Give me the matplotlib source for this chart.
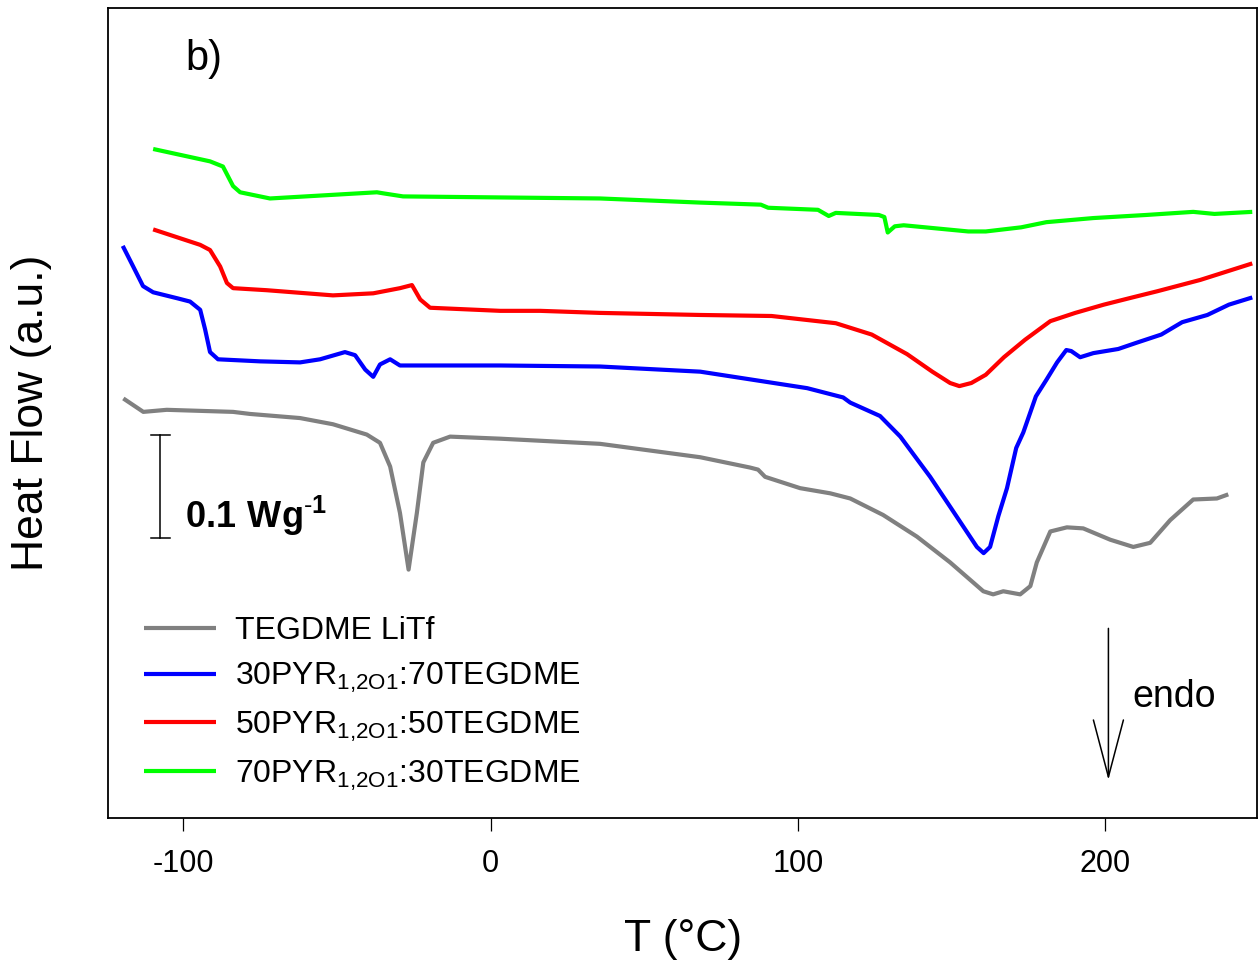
import matplotlib
matplotlib.use("Agg")
import matplotlib.pyplot as plt

plt.rcParams['font.family'] = ['Liberation Sans', 'DejaVu Sans']
plt.rcParams['mathtext.fontset'] = 'custom'
plt.rcParams['mathtext.rm'] = 'Liberation Sans'
plt.rcParams['mathtext.bf'] = 'Liberation Sans:bold'

# DSC traces, temperature in degC, heat flow in W/g (arbitrary offset)
t_litf = [-119.5, -113.0, -105.4, -83.8, -78.3, -62.0, -51.3, -40.3, -36.0, -32.7, -29.5, -26.7,
          -24.0, -21.9, -18.7, -13.2, 3.1, 35.6, 68.2, 84.4, 87.0, 89.3, 100.7, 110.5, 117.0,
          127.7, 138.7, 149.5, 160.3, 163.5, 166.8, 172.3, 175.6, 177.7, 182.1, 187.5, 192.8,
          201.6, 209.1, 214.6, 221.1, 228.6, 236.3, 240.0]
hf_litf = [0.407, 0.394, 0.396, 0.394, 0.392, 0.388, 0.382, 0.372, 0.364, 0.341, 0.296, 0.241,
           0.296, 0.345, 0.364, 0.370, 0.368, 0.363, 0.350, 0.340, 0.338, 0.331, 0.320, 0.315, 0.310,
           0.294, 0.273, 0.248, 0.220, 0.217, 0.220, 0.217, 0.225, 0.248, 0.278, 0.282, 0.281,
           0.270, 0.263, 0.267, 0.289, 0.309, 0.310, 0.314]

t_30 = [-119.7, -116.3, -113.1, -109.8, -101.7, -97.8, -94.5, -92.9, -91.3, -88.7, -75.0, -62.0,
        -55.5, -47.4, -44.1, -40.8, -38.2, -36.0, -32.7, -29.5, 3.1, 35.6, 68.2, 103.0, 114.7,
        117.0, 126.7, 133.3, 143.0, 149.5, 158.2, 160.4, 162.5, 165.2, 168.0, 171.0, 173.3,
        177.4, 180.8, 184.3, 187.3, 188.9, 191.8, 196.1, 204.2, 210.1, 218.2, 225.0, 233.2,
        240.2, 247.8]
hf_30 = [0.555, 0.535, 0.516, 0.510, 0.504, 0.501, 0.493, 0.474, 0.452, 0.445, 0.443, 0.442,
         0.445, 0.452, 0.449, 0.435, 0.428, 0.440, 0.445, 0.439, 0.439, 0.438, 0.433, 0.417, 0.408,
         0.403, 0.390, 0.370, 0.331, 0.302, 0.263, 0.257, 0.263, 0.293, 0.320, 0.359, 0.374,
         0.409, 0.425, 0.442, 0.454, 0.453, 0.447, 0.451, 0.455, 0.461, 0.469, 0.481, 0.488,
         0.498, 0.505]

t_50 = [-109.8, -94.5, -91.3, -88.0, -85.8, -83.8, -72.8, -51.3, -38.2, -29.5, -25.6, -22.9,
        -19.7, 3.1, 16.1, 35.6, 68.2, 91.4, 112.3, 124.0, 135.5, 143.7, 149.5, 152.5, 156.4,
        161.1, 167.0, 173.9, 182.1, 190.2, 199.5, 208.8, 216.9, 230.9, 247.8]
hf_50 = [0.571, 0.556, 0.551, 0.535, 0.519, 0.514, 0.512, 0.507, 0.509, 0.514, 0.517, 0.503,
         0.495, 0.492, 0.492, 0.490, 0.488, 0.487, 0.480, 0.469, 0.450, 0.433, 0.422, 0.419, 0.422,
         0.430, 0.447, 0.464, 0.482, 0.490, 0.498, 0.505, 0.511, 0.522, 0.538]

t_70 = [-109.8, -91.3, -87.1, -83.8, -81.5, -71.8, -37.0, -35.0, -28.5, 3.1, 35.6, 68.2, 87.9,
        90.3, 106.5, 110.0, 112.3, 126.3, 128.1, 129.2, 131.5, 134.4, 155.4, 161.1, 172.6, 180.8,
        196.1, 213.3, 228.6, 235.5, 247.8]
hf_70 = [0.649, 0.637, 0.632, 0.613, 0.607, 0.601, 0.607, 0.606, 0.603, 0.602, 0.601, 0.597, 0.595,
         0.592, 0.590, 0.584, 0.587, 0.585, 0.583, 0.568, 0.574, 0.575, 0.569, 0.569, 0.573, 0.578,
         0.582, 0.585, 0.588, 0.586, 0.588]

labels = ['TEGDME LiTf',
          r'30PYR$_{\mathrm{1{,}2O1}}$:70TEGDME',
          r'50PYR$_{\mathrm{1{,}2O1}}$:50TEGDME',
          r'70PYR$_{\mathrm{1{,}2O1}}$:30TEGDME']
colors = ['#808080', '#0000ff', '#ff0000', '#00ff00']
xticks = [-100, 0, 100, 200]

fig = plt.figure(figsize=(12.6, 9.67), dpi=100)
ax = fig.add_axes([0.0857, 0.154, 0.9123, 0.838])

for t, h, lab, c in zip([t_litf, t_30, t_50, t_70], [hf_litf, hf_30, hf_50, hf_70], labels, colors):
    ax.plot(t, h, color=c, lw=3, label=lab, solid_capstyle='butt', solid_joinstyle='round')

ax.set_xlim(-124.5, 249.5)
ax.set_ylim(0, 0.786)
ax.set_xticks(xticks)
ax.set_xticklabels([str(v) for v in xticks])
ax.set_yticks([])
ax.tick_params(axis='x', direction='out', length=9, width=0.9, labelsize=22, pad=13)
for s in ax.spines.values():
    s.set_linewidth(1.3)

ax.set_xlabel('T (°C)', fontsize=32, labelpad=29)
ax.set_ylabel('Heat Flow (a.u.)', fontsize=32, labelpad=40)

ax.text(-99.4, 0.726, 'b)', fontsize=30, va='baseline')

# scale bar 0.1 W/g
ax.plot([-107.5, -107.5], [0.272, 0.372], color='black', lw=1.1)
ax.plot([-110.6, -104.4], [0.372, 0.372], color='black', lw=1.1)
ax.plot([-110.6, -104.4], [0.272, 0.272], color='black', lw=1.1)
ax.text(-99.4, 0.2816, r'$\mathbf{0.1\ Wg}^{\mathbf{\text{-}1}}$', fontsize=26, va='baseline')

# endo arrow
ax.annotate('', xy=(201.0, 0.037), xytext=(201.0, 0.184),
            arrowprops=dict(arrowstyle='->,head_length=41,head_width=10.8', lw=1.1,
                            mutation_scale=1, shrinkA=0, shrinkB=0, color='black'))
ax.text(208.8, 0.108, 'endo', fontsize=27, va='baseline')

ax.legend(loc='upper left', bbox_to_anchor=(0.02, 0.265), frameon=False, fontsize=23,
          handlelength=2.25, handletextpad=0.6, labelspacing=0.45, borderaxespad=0)

fig.savefig('out.png', dpi=100)
